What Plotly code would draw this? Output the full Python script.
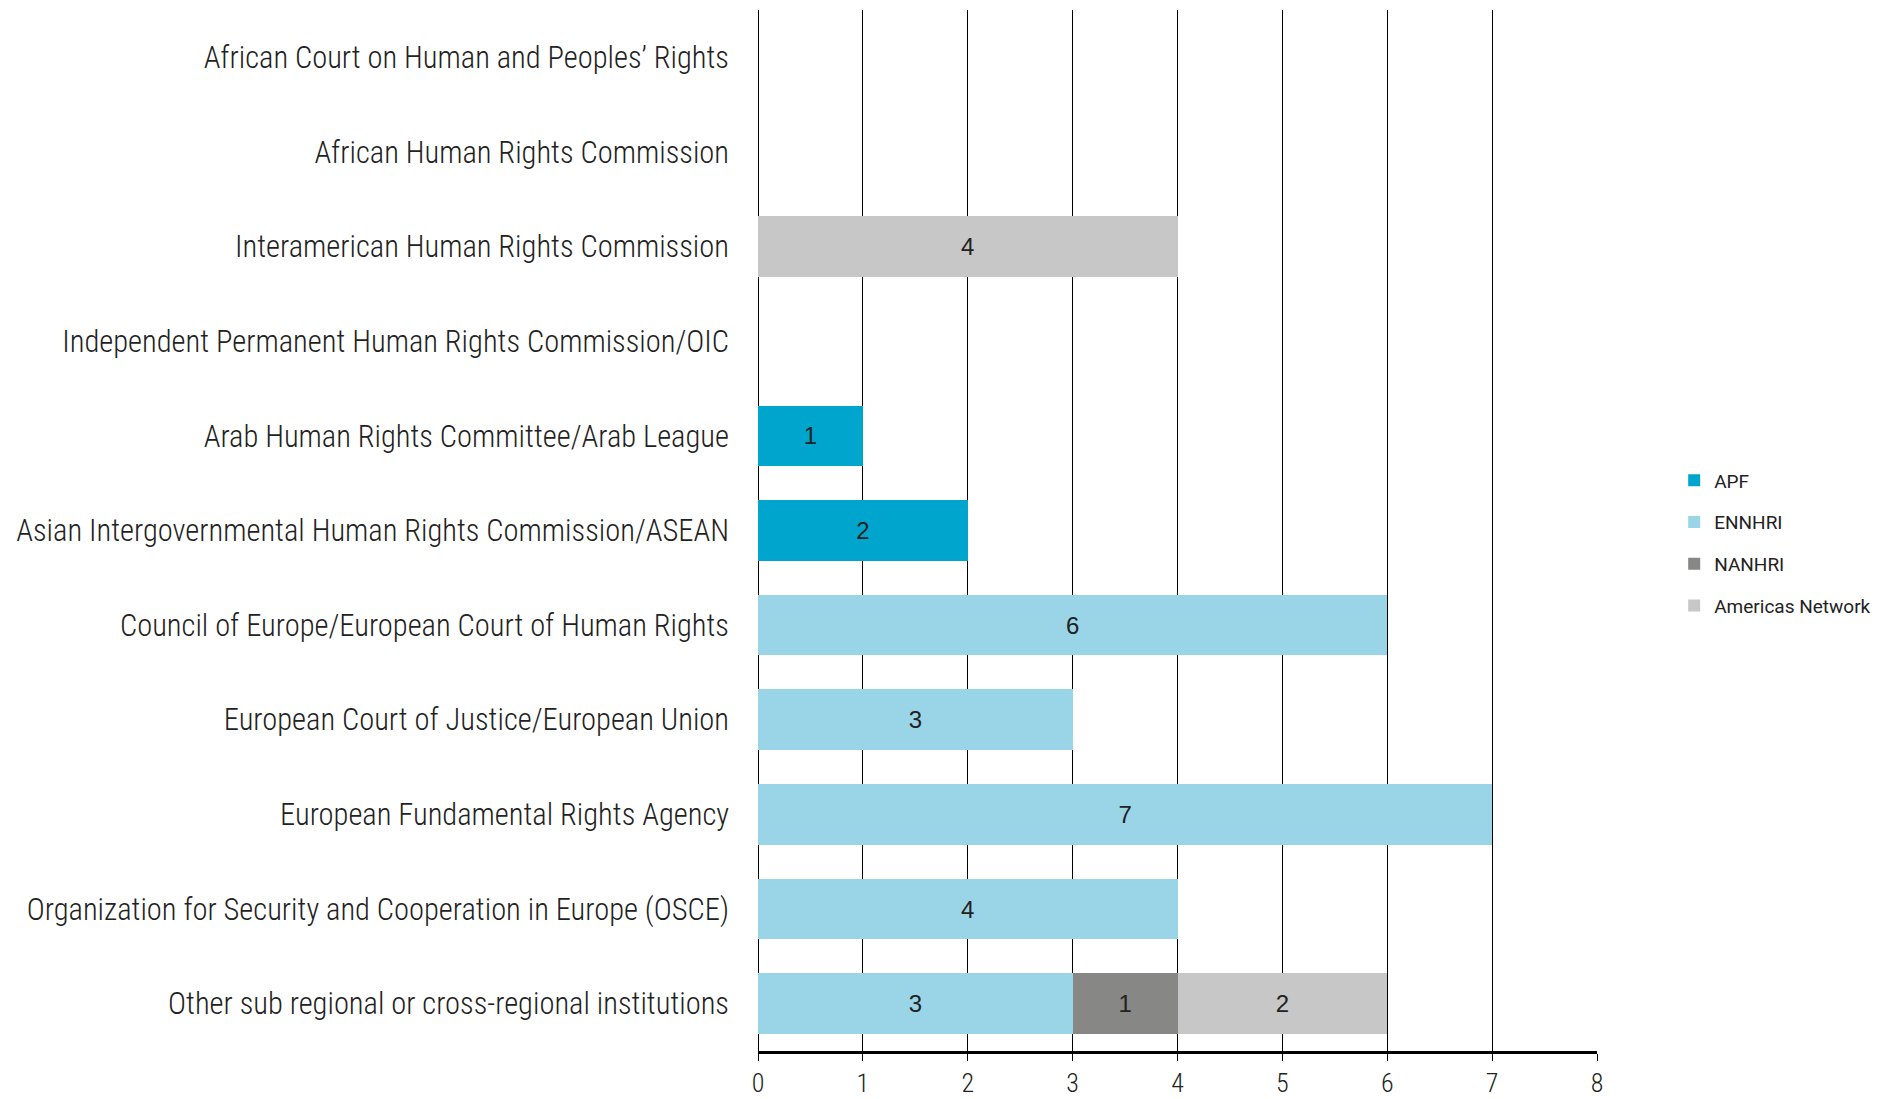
import plotly.graph_objects as go

categories = [
    "African Court on Human and Peoples’ Rights",
    "African Human Rights Commission",
    "Interamerican Human Rights Commission",
    "Independent Permanent Human Rights Commission/OIC",
    "Arab Human Rights Committee/Arab League",
    "Asian Intergovernmental Human Rights Commission/ASEAN",
    "Council of Europe/European Court of Human Rights",
    "European Court of Justice/European Union",
    "European Fundamental Rights Agency",
    "Organization for Security and Cooperation in Europe (OSCE)",
    "Other sub regional or cross-regional institutions",
]
apf = [None, None, None, None, 1, 2, None, None, None, None, None]
ennhri = [None, None, None, None, None, None, 6, 3, 7, 4, 3]
nanhri = [None, None, None, None, None, None, None, None, None, None, 1]
americas = [None, None, 4, None, None, None, None, None, None, None, 2]
x_ticks = [0, 1, 2, 3, 4, 5, 6, 7, 8]

series = [
    ("APF", apf, "#00A5CE"),
    ("ENNHRI", ennhri, "#9AD4E7"),
    ("NANHRI", nanhri, "#878786"),
    ("Americas Network", americas, "#C6C7C6"),
]

COND = "Roboto Condensed, Liberation Sans Narrow, DejaVu Sans Condensed, Arial Narrow, sans-serif"

fig = go.Figure()
for name, vals, col in series:
    fig.add_trace(go.Bar(
        y=categories, x=vals, name=name, orientation="h",
        marker=dict(color=col, line=dict(width=0)),
        text=[("" if v is None else str(v)) for v in vals],
        textposition="inside", insidetextanchor="middle",
        textfont=dict(family="Liberation Sans, Arial, sans-serif", size=24, color="#222222"),
        legendgroup=name,
    ))

fig.update_layout(
    barmode="stack",
    bargap=0.36,
    width=1875, height=1091,
    margin=dict(l=750, r=286, t=2, b=48, autoexpand=False),
    plot_bgcolor="white", paper_bgcolor="white",
    font=dict(family=COND, color="#222222"),
    legend=dict(
        x=1.092, xanchor="left", y=0.488, yanchor="middle",
        font=dict(family="Roboto, Liberation Sans, sans-serif", size=19, color="#222222"),
        tracegroupgap=14, bgcolor="rgba(0,0,0,0)",
    ),
    uniformtext=dict(mode="show", minsize=10),
)
fig.update_xaxes(
    automargin=False,
    range=[0, 8], tickvals=x_ticks, showgrid=True, gridcolor="black", gridwidth=1,
    zeroline=True, zerolinecolor="black", zerolinewidth=1,
    showline=True, linecolor="black", linewidth=3,
    ticks="outside", ticklen=7, tickcolor="black", tickwidth=1,
    tickfont=dict(size=26, family=COND, color="#222222", weight=300),
    ticklabelstandoff=0,
)
fig.update_yaxes(
    automargin=False,
    categoryorder="array", categoryarray=categories, autorange="reversed",
    showgrid=False, zeroline=False, showline=False, ticks="",
    tickfont=dict(size=30.5, family=COND, color="#222222", weight=300),
    ticklabelstandoff=28,
)
fig.write_html("out.html")
